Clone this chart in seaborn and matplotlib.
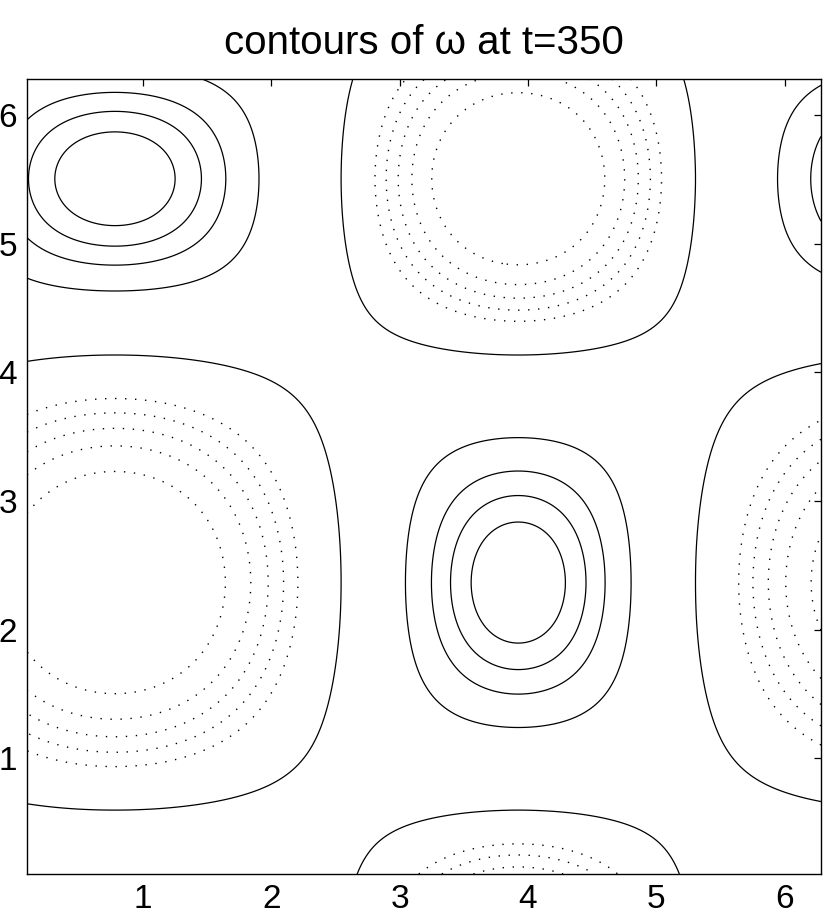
import numpy as np
import matplotlib
matplotlib.use("Agg")
import matplotlib.pyplot as plt
import seaborn as sns

# === 1. Datos ===
# bordes de las celdas (donde omega cambia de signo), leidos de los contornos cero
x_edges = [2.545, 5.305]
y_edges = [0.595, 4.136]
corner_round = 0.11   # redondeo de las esquinas de los contornos cero

# niveles de contorno: negativos punteados, positivos (y cero) continuos
neg_levels = [-0.72, -0.587, -0.485, -0.389, -0.296]
pos_levels = [0.0, 0.54, 0.718, 0.825, 0.914]

xticks = [1, 2, 3, 4, 5, 6]
yticks = [1, 2, 3, 4, 5, 6]
title = "contours of ω at t=350"

# === 2. Campo en la malla ===
L = 2 * np.pi
lo = L / 64
x = np.linspace(lo, L, 600)
y = np.linspace(lo, L, 600)
xg, yg = np.meshgrid(x, y)

phase = [-1.5 * np.pi, -0.5 * np.pi, 0.5 * np.pi, 1.5 * np.pi]
X = np.interp(xg, [x_edges[1] - L, x_edges[0], x_edges[1], x_edges[0] + L], phase)
Y = np.interp(yg, [y_edges[1] - L, y_edges[0], y_edges[1], y_edges[0] + L], phase)
w = np.cos(X) * np.cos(Y) + corner_round * np.sin(X) ** 2 * np.sin(Y) ** 2

# === 3. Figura ===
sns.set_style("white")
plt.rcParams["font.family"] = ["Liberation Sans", "DejaVu Sans"]
plt.rcParams["text.color"] = "k"
plt.rcParams["axes.titlecolor"] = "k"

fig = plt.figure(figsize=(8.3, 9.23), dpi=100)
ax = fig.add_axes([27 / 830, 1 - 874 / 923, 794 / 830, 795 / 923])

ax.contour(xg, yg, w, levels=neg_levels, colors="k",
           linestyles=[(0, (1, 6.2))], linewidths=1.0)
ax.contour(xg, yg, w, levels=pos_levels, colors="k",
           linestyles="solid", linewidths=0.9)

ax.set_xlim(lo, L)
ax.set_ylim(lo, L)
ax.set_xticks(xticks)
ax.set_yticks(yticks)
ax.tick_params(direction="in", length=5.3, width=0.9, top=True, right=True,
               labelsize=24, pad=7, colors="k")
for s in ax.spines.values():
    s.set_visible(True)
    s.set_color("k")
    s.set_linewidth(1.0)

ax.set_title(title, fontsize=29, pad=18, color="k")

fig.savefig("out.png", dpi=100)
plt.close(fig)
